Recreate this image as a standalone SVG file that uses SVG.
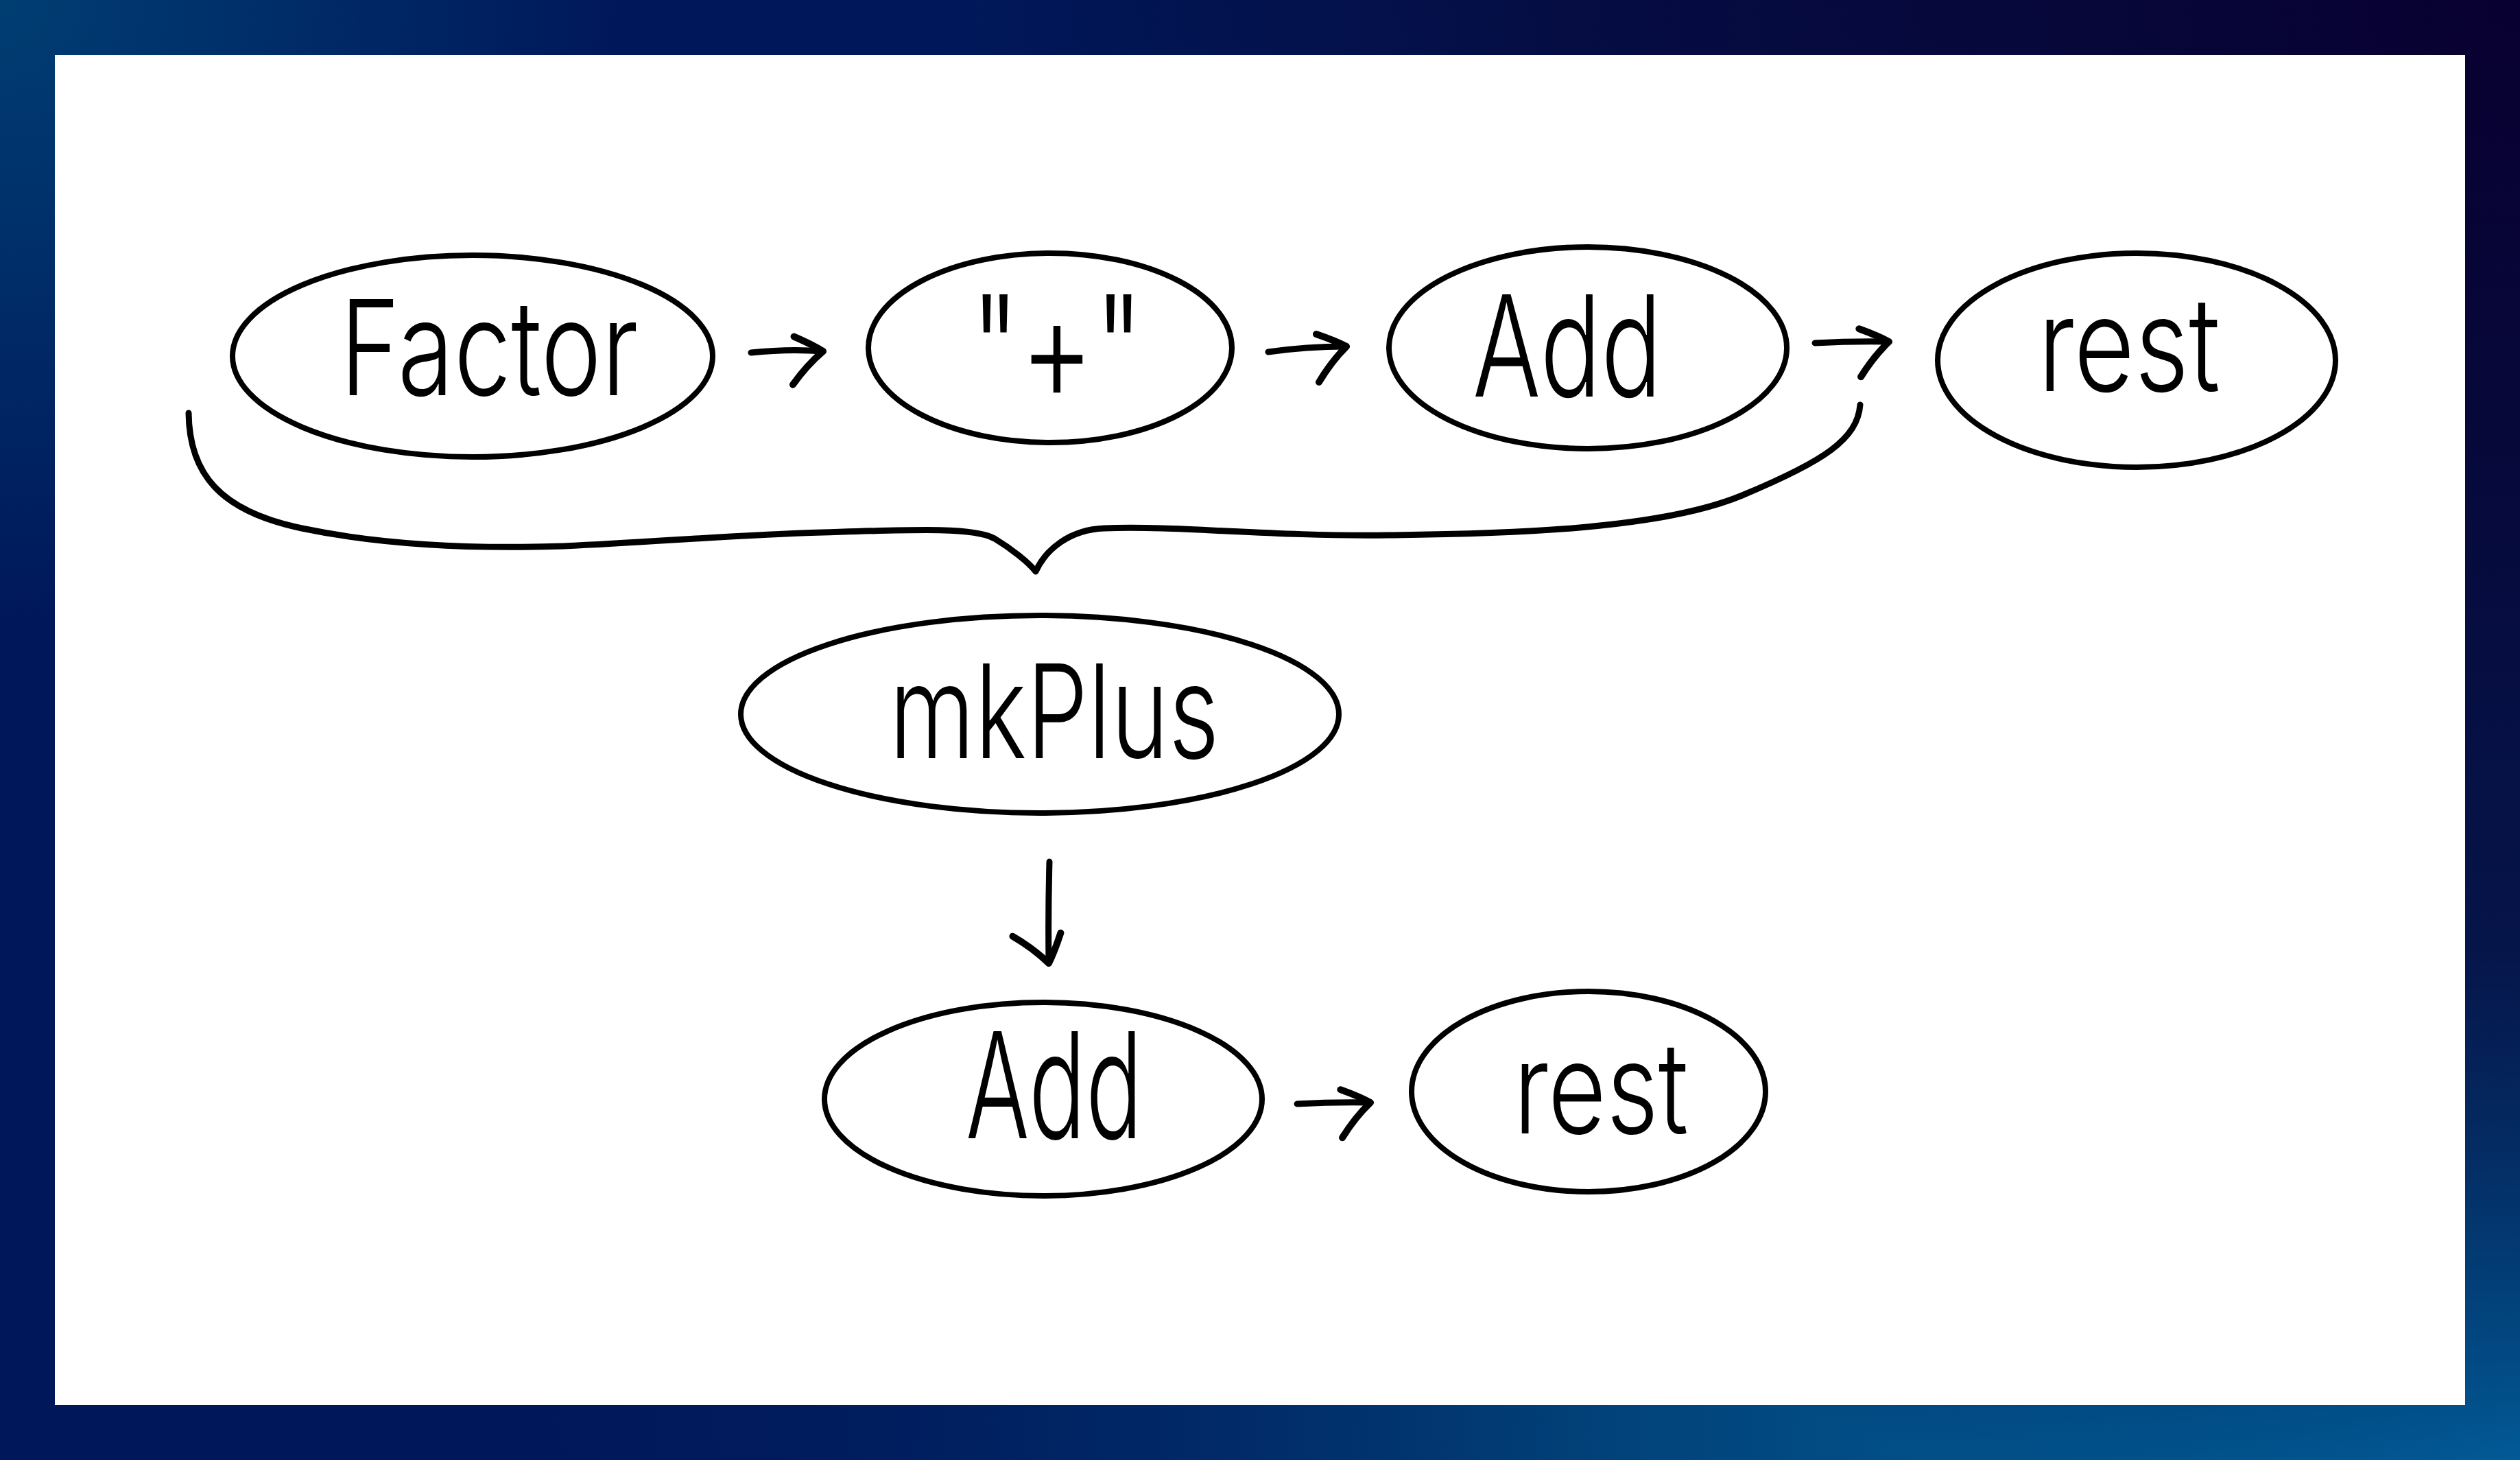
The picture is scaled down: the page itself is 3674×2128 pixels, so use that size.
<svg xmlns="http://www.w3.org/2000/svg" width="3674" height="2128" viewBox="0 0 3674 2128">
  <defs>
    <radialGradient id="gBR" cx="3674" cy="2128" r="3000" gradientUnits="userSpaceOnUse">
      <stop offset="0" stop-color="#0069a6"/>
      <stop offset="0.45" stop-color="#02467c" stop-opacity="0.9"/>
      <stop offset="1" stop-color="#00185a" stop-opacity="0"/>
    </radialGradient>
    <radialGradient id="gTR" cx="3674" cy="0" r="2300" gradientUnits="userSpaceOnUse">
      <stop offset="0" stop-color="#080030"/>
      <stop offset="0.6" stop-color="#060a3e" stop-opacity="0.85"/>
      <stop offset="1" stop-color="#060a3e" stop-opacity="0"/>
    </radialGradient>
    <radialGradient id="gTL" cx="0" cy="0" r="900" gradientUnits="userSpaceOnUse">
      <stop offset="0" stop-color="#003e72"/>
      <stop offset="1" stop-color="#003e72" stop-opacity="0"/>
    </radialGradient>
    <marker id="head" markerUnits="userSpaceOnUse" markerWidth="120" markerHeight="140" refX="0" refY="0" viewBox="-70 -70 100 140" orient="auto" overflow="visible">
      <path d="M -44 -18 Q -15 -8 0 0 Q -22 22 -40 52" fill="none" stroke="#000" stroke-width="10" stroke-linecap="round" stroke-linejoin="round"/>
    </marker>
    <style>
      .node ellipse { fill: none; stroke: #000; stroke-width: 8; }
      .node text { font-family: Inter, "Open Sans", "Liberation Sans", sans-serif; font-weight: 300; fill: #000; text-anchor: middle; }
      .edge { fill: none; stroke: #000; stroke-width: 9; stroke-linecap: round; stroke-linejoin: round; }
      .arrow { marker-end: url(#head); }
    </style>
  </defs>

  <rect x="0" y="0" width="3674" height="2128" fill="#00185a"/>
  <rect x="0" y="0" width="3674" height="2128" fill="url(#gBR)"/>
  <rect x="0" y="0" width="3674" height="2128" fill="url(#gTR)"/>
  <rect x="0" y="0" width="3674" height="2128" fill="url(#gTL)"/>
  <rect x="80" y="80" width="3514" height="1968" fill="#ffffff"/>

  <g id="node-factor" class="node">
    <ellipse cx="689" cy="519" rx="350" ry="147"/>
    <text x="713" y="576" font-size="192" textLength="435" lengthAdjust="spacingAndGlyphs">Factor</text>
  </g>
  <g id="node-plus" class="node">
    <ellipse cx="1531" cy="507" rx="265" ry="138"/>
    <text x="1541" y="585" font-size="215" textLength="253" lengthAdjust="spacingAndGlyphs">"+"</text>
  </g>
  <g id="node-add" class="node">
    <ellipse cx="2315" cy="507" rx="290" ry="147"/>
    <text x="2285" y="578" font-size="205" textLength="276" lengthAdjust="spacingAndGlyphs">Add</text>
  </g>
  <g id="node-rest" class="node">
    <ellipse cx="3115" cy="525" rx="290" ry="156"/>
    <text x="3104" y="570" font-size="190" textLength="266" lengthAdjust="spacingAndGlyphs">rest</text>
  </g>
  <g id="node-mkplus" class="node">
    <ellipse cx="1516" cy="1041" rx="436" ry="144"/>
    <text x="1537" y="1105" font-size="190" textLength="481" lengthAdjust="spacingAndGlyphs">mkPlus</text>
  </g>
  <g id="node-add2" class="node">
    <ellipse cx="1521" cy="1602" rx="319" ry="141"/>
    <text x="1537" y="1659" font-size="215" textLength="258" lengthAdjust="spacingAndGlyphs">Add</text>
  </g>
  <g id="node-rest2" class="node">
    <ellipse cx="2316" cy="1591" rx="258" ry="146"/>
    <text x="2334" y="1652" font-size="185" textLength="255" lengthAdjust="spacingAndGlyphs">rest</text>
  </g>

  <g id="connectors">
    <path class="edge arrow" d="M 1095 514 Q 1150 508 1200 512"/>
    <path class="edge arrow" d="M 1849 513 Q 1905 505 1963 505"/>
    <path class="edge arrow" d="M 2646 500 Q 2700 497 2754 498"/>
    <path class="edge arrow" d="M 1891 1609 Q 1945 1606 1998 1607"/>
    <path class="edge arrow" d="M 1530 1256 Q 1528 1330 1529 1404"/>
    <path class="edge" d="M 275 602 C 276 690 320 745 440 770 C 560 795 700 800 822 796 C 960 790 1060 780 1200 776 C 1330 772 1420 768 1450 785 C 1475 800 1500 820 1510 833 C 1525 800 1560 772 1610 770 C 1720 766 1850 782 2024 780 C 2200 778 2420 772 2540 722 C 2660 672 2708 640 2712 590"/>
  </g>
</svg>
